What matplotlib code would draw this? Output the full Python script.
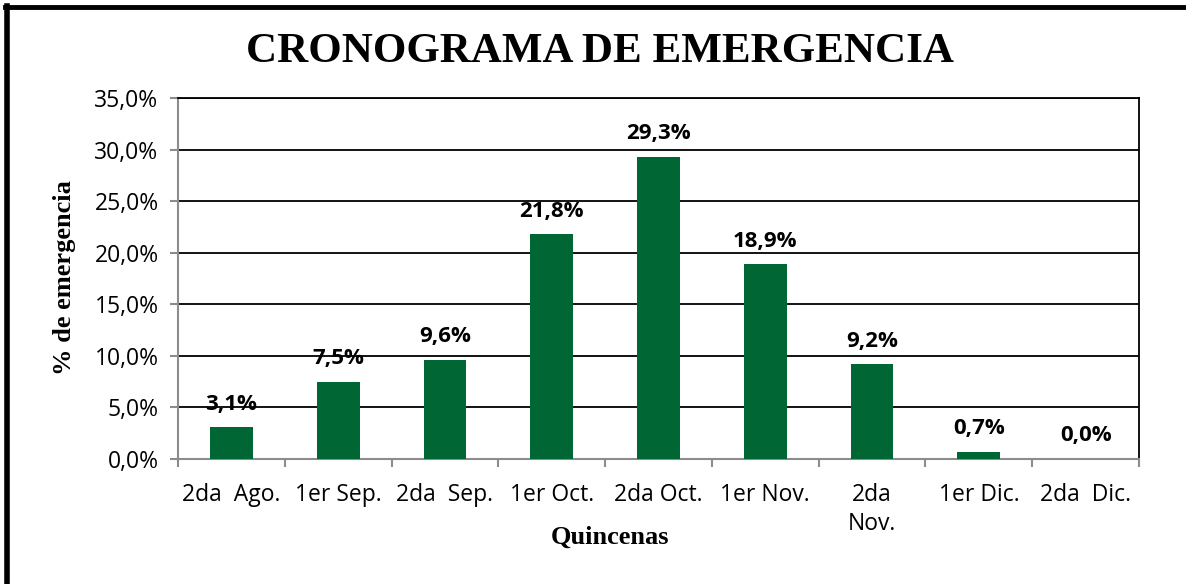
import numpy as np
import matplotlib
matplotlib.use("Agg")
import matplotlib.pyplot as plt
from matplotlib.ticker import FuncFormatter, FixedLocator

# Datos
quincenas = ["2da  Ago.", "1er Sep.", "2da  Sep.", "1er Oct.", "2da Oct.",
             "1er Nov.", "2da\nNov.", "1er Dic.", "2da  Dic."]
emergencia = [3.1, 7.5, 9.6, 21.8, 29.3, 18.9, 9.2, 0.7, 0.0]

verde = "#006633"
gris = "#8c8c8c"
sans = ["Open Sans", "DejaVu Sans"]
serif = ["Liberation Serif", "DejaVu Serif"]

fig = plt.figure(figsize=(11.86, 5.84), dpi=100)
ax = fig.add_axes([178 / 1186, 1 - 459 / 584, (1139 - 178) / 1186, (459 - 98) / 584])

x = np.arange(len(quincenas))
bars = ax.bar(x, emergencia, width=0.4, color=verde, zorder=3)

ax.set_xlim(-0.5, len(quincenas) - 0.5)
ax.set_ylim(0, 35)
ax.yaxis.set_major_locator(FixedLocator(np.arange(0, 36, 5)))
ax.yaxis.set_major_formatter(FuncFormatter(lambda v, p: f"{v:.1f}%".replace(".", ",")))
ax.grid(axis="y", color="black", linewidth=1.3, zorder=0)

ax.set_xticks(x)
ax.set_xticklabels(quincenas, fontsize=16.5, family=sans, linespacing=1.3)
ax.set_xticks(np.arange(-0.5, len(quincenas)), minor=True)
ax.tick_params(axis="x", which="major", length=0, pad=17)
ax.tick_params(axis="x", which="minor", length=6, color=gris, width=1.5)
ax.tick_params(axis="y", length=6, color=gris, width=1.5, labelsize=16.5, pad=8)
for lab in ax.get_yticklabels():
    lab.set_family(sans)

for s in ["left", "bottom"]:
    ax.spines[s].set_color(gris)
    ax.spines[s].set_linewidth(1.5)
for s in ["right", "top"]:
    ax.spines[s].set_color("black")
    ax.spines[s].set_linewidth(1.3)

# etiquetas de valor
for b, v in zip(bars, emergencia):
    ax.annotate(f"{v:.1f}%".replace(".", ","), (b.get_x() + b.get_width() / 2, v),
                xytext=(0, 9), textcoords="offset points", ha="center", va="bottom",
                fontsize=16, fontweight="bold", family=sans)

ax.set_ylabel("% de emergencia", family=serif, fontweight="bold", fontsize=19, va="center")
ax.yaxis.set_label_coords(65 / 1186, 1 - 278 / 584, transform=fig.transFigure)
ax.set_xlabel("Quincenas", family=serif, fontweight="bold", fontsize=19, va="center")
ax.xaxis.set_label_coords(610 / 1186, 1 - 537 / 584, transform=fig.transFigure)

fig.text(600 / 1186, 1 - 52 / 584, "CRONOGRAMA DE EMERGENCIA", ha="center", va="center",
         family=serif, fontweight="bold", fontsize=31)

# Marco de la figura
fig.add_artist(plt.Line2D([6.5 / 1186, 6.5 / 1186], [0, 1 - 6 / 584], color="black",
                          linewidth=4, transform=fig.transFigure))
fig.add_artist(plt.Line2D([5 / 1186, 1], [1 - 7 / 584, 1 - 7 / 584], color="black",
                          linewidth=3.5, transform=fig.transFigure))

fig.savefig("out.png", dpi=100)
